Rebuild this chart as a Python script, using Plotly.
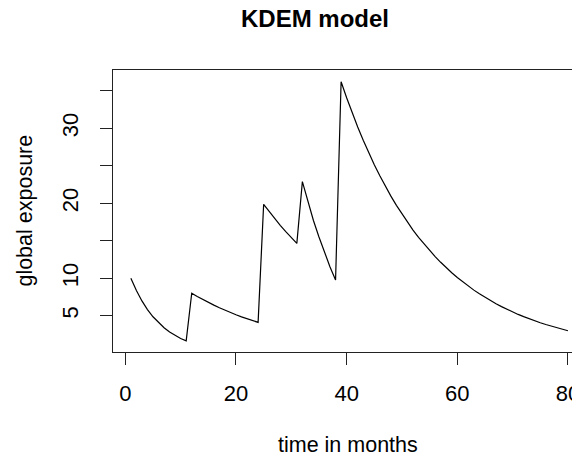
import plotly.graph_objects as go

months = list(range(1, 81))
exposure = [
    10.0, 8.35, 6.97, 5.82, 4.86, 4.06, 3.39, 2.83, 2.36, 1.97, 1.65,
    8.0, 7.57, 7.16, 6.77, 6.41, 6.06, 5.73, 5.42, 5.13, 4.85, 4.59, 4.34, 4.11,
    19.85, 18.87, 17.94, 17.05, 16.21, 15.41, 14.65,
    22.87, 20.2, 17.7, 15.5, 13.4, 11.5, 9.76,
    36.2, 34.06, 32.05, 30.16, 28.38, 26.71, 25.13, 23.65, 22.26, 20.94,
    19.71, 18.55, 17.45, 16.42, 15.45, 14.54, 13.68, 12.88, 12.12, 11.40,
    10.73, 10.10, 9.50, 8.94, 8.41, 7.92, 7.45, 7.01, 6.60, 6.21,
    5.84, 5.50, 5.17, 4.87, 4.58, 4.31, 4.06, 3.82, 3.59, 3.38,
    3.18, 2.99,
]
x_ticks = [0, 20, 40, 60, 80]
y_ticks = [5, 10, 15, 20, 25, 30, 35]
y_ticktext = ["5", "10", "", "20", "", "30", ""]

title_text = "KDEM model"
x_title = "time in months"
y_title = "global exposure"

# page body adds an 8px offset, so the figure is 8px smaller
OFF = 8
W, H = 580 - OFF, 460 - OFF
L, R, T, B = 113 - OFF, 0, 70 - OFF, 108
pw, ph = W - L - R, H - T - B

def px_x(p):
    return (p - OFF - L) / pw

def px_y(p):
    return (H - B - (p - OFF)) / ph

FONT = "Liberation Sans, Arial, sans-serif"
AX = "#222222"

fig = go.Figure()
fig.add_trace(go.Scatter(x=months, y=exposure, mode="lines",
                         line=dict(color="black", width=1.2),
                         showlegend=False, hoverinfo="skip"))

fig.update_layout(
    width=W, height=H,
    margin=dict(l=L, r=R, t=T, b=B, pad=0),
    paper_bgcolor="white", plot_bgcolor="white",
    font=dict(family=FONT, size=22, color="black"),
    xaxis=dict(range=[-2.23, 81.64], tickvals=x_ticks,
               ticks="outside", ticklen=12, tickwidth=1, tickcolor=AX,
               showline=True, linecolor=AX, linewidth=1, mirror=True,
               showgrid=False, zeroline=False,
               ticklabeloverflow="allow", ticklabelstandoff=10,
               tickfont=dict(size=22)),
    yaxis=dict(range=[0.16, 37.76], tickvals=y_ticks, ticktext=y_ticktext,
               ticks="outside", ticklen=12, tickwidth=1, tickcolor=AX,
               showline=True, linecolor=AX, linewidth=1, mirror=False,
               showgrid=False, zeroline=False, tickangle=-90,
               ticklabelstandoff=13, tickfont=dict(size=22)),
    annotations=[
        dict(text="<b>" + title_text + "</b>", x=px_x(316), y=px_y(19),
             xref="paper", yref="paper", showarrow=False,
             xanchor="center", yanchor="middle", font=dict(size=24)),
        dict(text=x_title, x=px_x(350), y=px_y(445),
             xref="paper", yref="paper", showarrow=False,
             xanchor="center", yanchor="middle", font=dict(size=21.5)),
        dict(text=y_title, x=px_x(24), y=px_y(211), textangle=-90,
             xref="paper", yref="paper", showarrow=False,
             xanchor="center", yanchor="middle", font=dict(size=21.5)),
    ],
)

fig.write_html("out.html")
